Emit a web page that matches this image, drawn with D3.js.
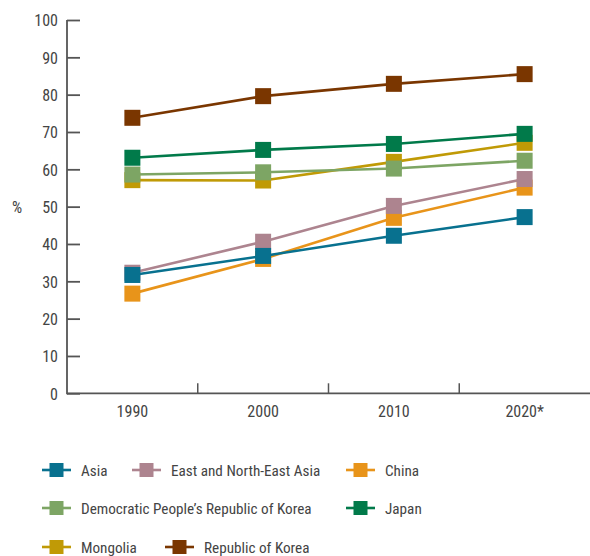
<!DOCTYPE html>
<html><head><meta charset="utf-8">
<script src="https://cdn.jsdelivr.net/npm/d3@7"></script>
<style>
body{margin:0;background:#fff;}
svg text{font-family:"Roboto Condensed",sans-serif;font-weight:400;fill:#444;font-size:15.2px;}
</style></head><body>
<svg id="c" width="590" height="556"></svg>
<script>
const categories = ["1990","2000","2010","2020*"];
const seriesNames = ["Asia","East and North-East Asia","China","Democratic People\u2019s Republic of Korea","Japan","Mongolia","Republic of Korea"];
const seriesColors = ["#08718F","#AD848F","#E8941A","#7DA564","#017A4A","#C09A06","#7A3600"];
const asia = [31.7, 36.8, 42.2, 47.2];
const eastNE = [32.3, 40.6, 50.2, 57.4];
const china = [26.7, 36.0, 47.0, 55.1];
const dprk = [58.6, 59.2, 60.2, 62.3];
const japan = [63.1, 65.2, 66.8, 69.5];
const mongolia = [57.1, 57.0, 62.0, 67.1];
const korea = [73.8, 79.6, 82.9, 85.5];
const yTicks = [0,10,20,30,40,50,60,70,80,90,100];
const seriesValues = [asia, eastNE, china, dprk, japan, mongolia, korea];

const svg = d3.select("#c");
const x = d3.scaleBand().domain(categories).range([67, 590]).paddingInner(0).paddingOuter(0);
const y = d3.scaleLinear().domain([0,100]).range([393.3, 20]);
const axisColor = "#555";

// y axis
const ya = svg.append("g").attr("transform","translate(67,0)")
  .call(d3.axisRight(y).tickValues(yTicks).tickSize(13).tickFormat(d3.format("d")));
ya.select(".domain").remove();
ya.selectAll(".tick line").attr("stroke",axisColor).attr("stroke-width",1.8);
ya.selectAll(".tick text").attr("x",-9).attr("text-anchor","end").attr("dy","0.36em").style("font-size","16px");
svg.append("line").attr("x1",67).attr("x2",67).attr("y1",y(100)).attr("y2",y(0)+1).attr("stroke",axisColor).attr("stroke-width",1.8);

svg.append("text").attr("x",17).attr("y",y(50)+6).attr("text-anchor","middle").style("font-size","16px").text("%");

// x axis
const xa = svg.append("g").attr("transform",`translate(0,${y(0)})`);
xa.append("line").attr("x1",67).attr("x2",590).attr("stroke",axisColor).attr("stroke-width",1.8);
xa.selectAll("line.tk").data(categories.slice(1)).join("line").attr("class","tk")
  .attr("x1",d=>x(d)).attr("x2",d=>x(d)).attr("y1",0).attr("y2",-10).attr("stroke",axisColor).attr("stroke-width",1.5);
xa.selectAll("text").data(categories).join("text")
  .attr("x",d=>x(d)+x.bandwidth()/2).attr("y",24).attr("text-anchor","middle").style("font-size","16px").text(d=>d);

// series, drawn in reverse order
const line = d3.line().x((d,i)=>x(categories[i])+x.bandwidth()/2).y(d=>y(d));
const ms = 16;
for (let s = seriesValues.length-1; s >= 0; s--) {
  const g = svg.append("g");
  g.append("path").attr("d", line(seriesValues[s])).attr("fill","none")
    .attr("stroke", seriesColors[s]).attr("stroke-width",2.6);
  g.selectAll("rect").data(seriesValues[s]).join("rect")
    .attr("x",(d,i)=>x(categories[i])+x.bandwidth()/2-ms/2)
    .attr("y",d=>y(d)-ms/2).attr("width",ms).attr("height",ms).attr("fill",seriesColors[s]);
}

// legend
const legendRows = [[0,1,2],[3,4],[5,6]];
const legendX = [[42,132,346],[42,346],[42,165]];
const legendY = [470,508,547];
legendRows.forEach((row,r)=>{
  row.forEach((s,k)=>{
    const g = svg.append("g").attr("transform",`translate(${legendX[r][k]},${legendY[r]})`);
    g.append("line").attr("x1",0).attr("x2",29).attr("stroke",seriesColors[s]).attr("stroke-width",2.6);
    g.append("rect").attr("x",7.5).attr("y",-7).attr("width",14).attr("height",14).attr("fill",seriesColors[s]);
    g.append("text").attr("x",39).attr("y",6).text(seriesNames[s]);
  });
});
</script></body></html>
